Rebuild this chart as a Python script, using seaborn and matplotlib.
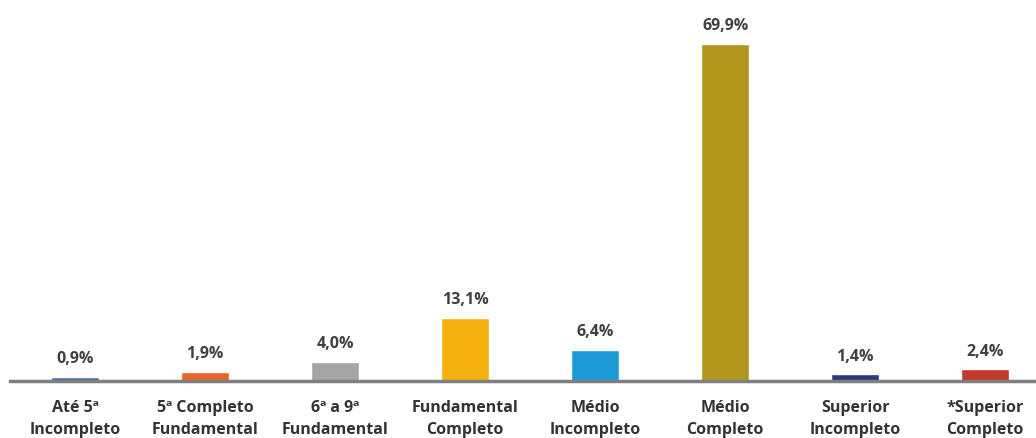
import pandas as pd
import numpy as np
import matplotlib
matplotlib.use("Agg")
import matplotlib.pyplot as plt
import seaborn as sns

# dados do grafico
categorias = ["Até 5ª\nIncompleto", "5ª Completo\nFundamental", "6ª a 9ª\nFundamental",
              "Fundamental\nCompleto", "Médio\nIncompleto", "Médio\nCompleto",
              "Superior\nIncompleto", "*Superior\nCompleto"]
valores = [0.9, 1.9, 4.0, 13.1, 6.4, 69.9, 1.4, 2.4]
rotulos = ["0,9%", "1,9%", "4,0%", "13,1%", "6,4%", "69,9%", "1,4%", "2,4%"]
cores = ["#4A6FA5", "#E8662A", "#A5A5A5", "#F5B10F", "#1E9BD7", "#B3961E", "#2B3A80", "#C0392B"]

df = pd.DataFrame({"cat": categorias, "val": valores})

sns.set_style("white")
plt.rcParams['font.family'] = ['Open Sans', 'DejaVu Sans']

fig = plt.figure(figsize=(10.36, 4.38), dpi=100)
ax = fig.add_axes([10 / 1036, 57 / 438, 1 - 10 / 1036, 1 - 57 / 438])

sns.barplot(data=df, x="cat", y="val", hue="cat", palette=cores, legend=False,
            width=0.37, saturation=1, ax=ax)

for i, (v, r) in enumerate(zip(valores, rotulos)):
    ax.annotate(r, (i, v), xytext=(0, 7), textcoords="offset points",
                ha="center", va="bottom", fontsize=11.5, fontweight="bold", color="#404040")

ax.set_xlim(-0.5, 7.39)
ax.set_ylim(0, 79)
ax.set_xlabel("")
ax.set_ylabel("")
ax.set_yticks([])
ax.tick_params(axis="x", length=0, pad=14)
for lab in ax.get_xticklabels():
    lab.set_fontsize(11.5)
    lab.set_fontweight("bold")
    lab.set_color("#333333")
    lab.set_linespacing(1.45)

for s in ["top", "right", "left"]:
    ax.spines[s].set_visible(False)
ax.spines["bottom"].set_color("#7f7f7f")
ax.spines["bottom"].set_linewidth(2.5)

plt.savefig("out.png", dpi=100)
